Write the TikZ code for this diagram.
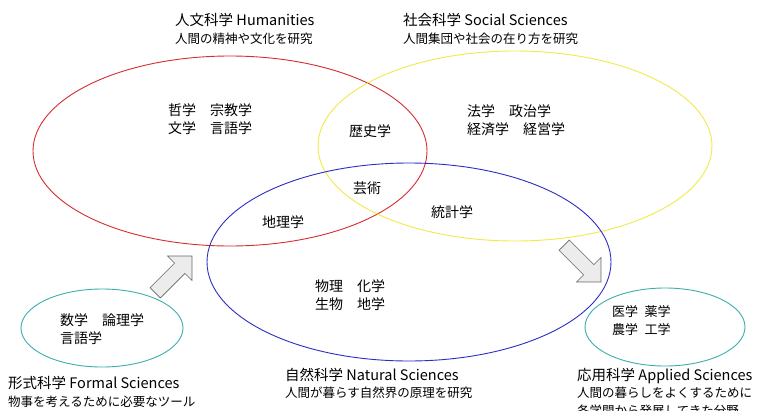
\documentclass[tikz,border=0pt]{standalone}
\usepackage{fontspec}
\setmainfont{Noto Sans CJK JP}
\usetikzlibrary{shapes.geometric}
\usetikzlibrary{shapes.arrows}
\usetikzlibrary{positioning}

\definecolor{humred}{RGB}{215,45,50}
\definecolor{socyellow}{RGB}{240,235,70}
\definecolor{natblue}{RGB}{45,45,195}
\definecolor{fieldteal}{RGB}{60,175,170}

\tikzset{
  field/.style={ellipse, draw, line width=0.9pt, inner sep=0pt},
  title/.style={anchor=base west, inner sep=0pt, font=\fontsize{14.5}{16}\selectfont},
  subtitle/.style={anchor=base west, inner sep=0pt, font=\fontsize{12.5}{18}\selectfont},
  subjects/.style={anchor=north west, inner sep=0pt, align=left, font=\fontsize{14}{18}\selectfont},
  flow/.style={single arrow, draw=gray!80!black, fill=gray!15, line width=0.6pt,
    inner sep=7pt, single arrow head extend=10pt, minimum height=52pt}
}

\begin{document}
\begin{tikzpicture}[x=1pt,y=-1pt]
        \clip (0,0) rectangle (761,410);
        \fill[white] (0,0) rectangle (761,410);

        \node[field, draw=humred, minimum width=394pt, minimum height=190pt] (hum) at (230,151) {};
        \node[field, draw=socyellow, minimum width=394pt, minimum height=190pt] (soc) at (515,146) {};
        \node[field, draw=natblue, minimum width=404pt, minimum height=198pt] (nat) at (409,262) {};
        \node[field, draw=fieldteal, minimum width=162pt, minimum height=78pt] (formal) at (102,328) {};
        \node[field, draw=fieldteal, minimum width=160pt, minimum height=78pt] (applied) at (665,327) {};

        \node[title] (humtitle) at (175,25) {人文科学 Humanities};
        \node[subtitle] (humsub) at (175,43) {人間の精神や文化を研究};
        \node[title] (soctitle) at (403,25) {社会科学 Social Sciences};
        \node[subtitle] (socsub) at (403,43) {人間集団や社会の在り方を研究};
        \node[title] (formaltitle) at (8,388) {形式科学 Formal Sciences};
        \node[subtitle] (formalsub) at (8,406) {物事を考えるために必要なツール};
        \node[title] (nattitle) at (285,380) {自然科学 Natural Sciences};
        \node[subtitle] (natsub) at (285,397) {人間が暮らす自然界の原理を研究};
        \node[title] (appliedtitle) at (577,380) {応用科学 Applied Sciences};
        \node[subtitle] (appliedsub) at (577,397) {人間の暮らしをよくするために};
        \node[subtitle] (appliedsub2) at (577,415) {各学問から発展してきた分野};

        \node[subjects] (humlist) at (168,103) {哲学　宗教学\\文学　言語学};
        \node[subjects] (soclist) at (467,104) {法学　政治学\\経済学　経営学};
        \node[subjects] (natlist) at (315,279) {物理　化学\\生物　地学};
        \node[subjects] (formallist) at (60,313) {数学　論理学\\言語学};
        \node[subjects, font=\fontsize{13}{18}\selectfont] (appliedlist) at (612,305) {医学\hspace{0.5em}薬学\\農学\hspace{0.5em}工学};

        \node[font=\fontsize{14}{16}\selectfont] (history) at (370,131) {歴史学};
        \node[font=\fontsize{14}{16}\selectfont] (arts) at (367,188) {芸術};
        \node[font=\fontsize{14}{16}\selectfont] (stats) at (452,212) {統計学};
        \node[font=\fontsize{14}{16}\selectfont] (geo) at (283,222) {地理学};

        \node[flow, rotate=45] (toscience) at (171,277) {};
        \node[flow, rotate=-45] (toapplied) at (580,261) {};

    \end{tikzpicture}
\end{document}
